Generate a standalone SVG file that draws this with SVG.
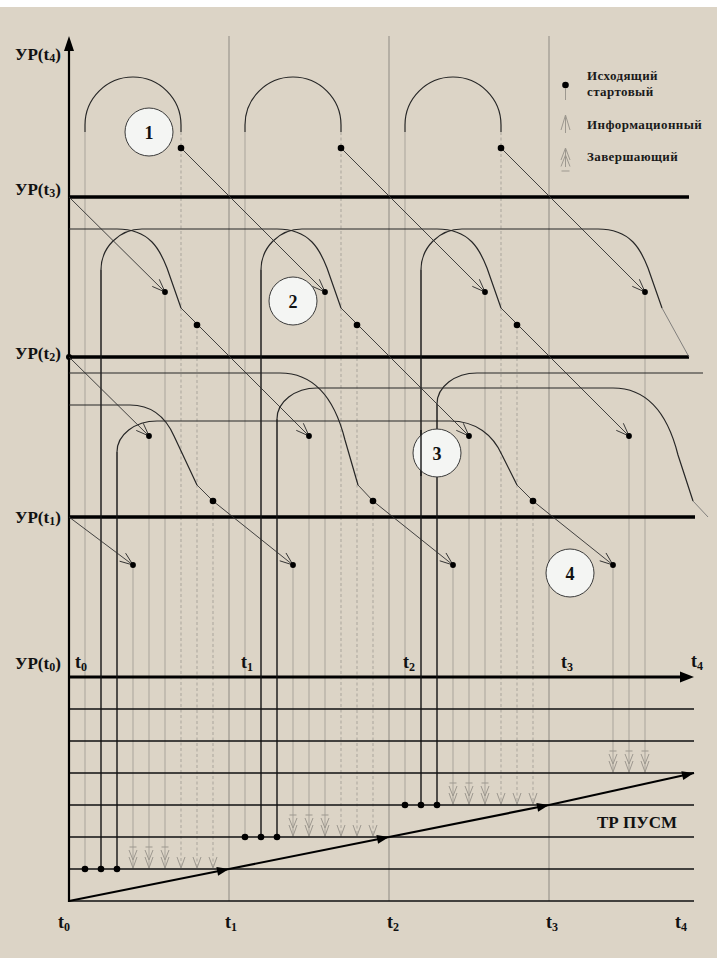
<svg xmlns="http://www.w3.org/2000/svg" width="717" height="958" viewBox="0 0 717 958">
<defs>
<style>
.lv{stroke:#000;stroke-width:3.5}
.row{stroke:#111;stroke-width:1.6}
.tl{stroke:#8e8a83;stroke-width:1}
.sv{stroke:#a9a49b;stroke-width:1}
.dv{stroke:#aaa59c;stroke-width:1;stroke-dasharray:3 2.5}
.bp{fill:none;stroke:#141414;stroke-width:1.4}
.cv{fill:none;stroke:#262626;stroke-width:1.2}
.dg{fill:none;stroke:#303030;stroke-width:0.9;marker-end:url(#oa)}
.fd{fill:none;stroke:#6a6a6a;stroke-width:0.8}
.mk{fill:none;stroke:#9d988f;stroke-width:1}
.lbl{font-family:"Liberation Serif","Times New Roman",serif;font-weight:bold;fill:#111}
.lg{font-family:"Liberation Serif","Times New Roman",serif;font-weight:bold;fill:#1a1a1a;font-size:13px;letter-spacing:0.4px}
.num{fill:#f4f5f3;stroke:#3a3a3a;stroke-width:1}
</style>
<marker id="oa" markerUnits="userSpaceOnUse" markerWidth="16" markerHeight="12" viewBox="-14 -6 16 12" refX="0" refY="0" orient="auto">
<path d="M-13,-5 L0,0 L-13,5" fill="none" stroke="#303030" stroke-width="0.9"/>
</marker>
<marker id="fa" markerUnits="userSpaceOnUse" markerWidth="14" markerHeight="10" viewBox="-13 -5 14 10" refX="0" refY="0" orient="auto">
<path d="M0,0 L-12,-4.5 L-12,4.5 Z" fill="#000"/>
</marker>
<g id="zv" class="mk"><path d="M-3.5,-22 H3.5 M-4,-19 L0,-9 L4,-19 M-4,-12 L0,-1 L4,-12"/></g>
<g id="iv" class="mk"><path d="M-4,-12 L0,-1 L4,-12"/></g>
</defs>

<rect x="0" y="0" width="717" height="958" fill="#fff"/>
<rect x="0" y="7" width="717" height="951" fill="#dcd4c6"/>

<g id="grid">
<!-- time lines -->
<line class="tl" x1="229" y1="36" x2="229" y2="901"/>
<line class="tl" x1="389" y1="36" x2="389" y2="901"/>
<line class="tl" x1="549" y1="36" x2="549" y2="901"/>
<!-- period 0 -->
<line class="sv" x1="85" y1="132" x2="85" y2="869"/>
<line class="sv" x1="133" y1="565" x2="133" y2="869"/>
<line class="sv" x1="149" y1="436" x2="149" y2="869"/>
<line class="sv" x1="165" y1="292" x2="165" y2="869"/>
<line class="dv" x1="181" y1="132" x2="181" y2="869"/>
<line class="dv" x1="197" y1="325" x2="197" y2="869"/>
<line class="dv" x1="213" y1="501" x2="213" y2="869"/>
<!-- period 1 -->
<line class="sv" x1="245" y1="132" x2="245" y2="837"/>
<line class="sv" x1="293" y1="565" x2="293" y2="837"/>
<line class="sv" x1="309" y1="436" x2="309" y2="837"/>
<line class="sv" x1="325" y1="292" x2="325" y2="837"/>
<line class="dv" x1="341" y1="132" x2="341" y2="837"/>
<line class="dv" x1="357" y1="325" x2="357" y2="837"/>
<line class="dv" x1="373" y1="501" x2="373" y2="837"/>
<!-- period 2 -->
<line class="sv" x1="405" y1="132" x2="405" y2="805"/>
<line class="sv" x1="453" y1="565" x2="453" y2="805"/>
<line class="sv" x1="469" y1="436" x2="469" y2="805"/>
<line class="sv" x1="485" y1="292" x2="485" y2="805"/>
<line class="dv" x1="501" y1="132" x2="501" y2="805"/>
<line class="dv" x1="517" y1="325" x2="517" y2="805"/>
<line class="dv" x1="533" y1="501" x2="533" y2="805"/>
<!-- period 3 -->
<line class="sv" x1="613" y1="565" x2="613" y2="773"/>
<line class="sv" x1="629" y1="436" x2="629" y2="773"/>
<line class="sv" x1="645" y1="292" x2="645" y2="773"/>
</g>

<g id="levels">
<line class="lv" x1="69" y1="197" x2="689" y2="197"/>
<line class="lv" x1="69" y1="357" x2="689" y2="357"/>
<line class="lv" x1="69" y1="517" x2="695" y2="517"/>
<circle cx="69" cy="357" r="3" fill="#000"/>
<line x1="69" y1="677" x2="682" y2="677" stroke="#000" stroke-width="3"/>
<polygon points="694,677 680,671.5 680,682.5" fill="#000"/>
<line class="row" x1="69" y1="709" x2="694" y2="709"/>
<line class="row" x1="69" y1="741" x2="694" y2="741"/>
<line class="row" x1="69" y1="773" x2="694" y2="773"/>
<line class="row" x1="69" y1="805" x2="694" y2="805"/>
<line class="row" x1="69" y1="837" x2="694" y2="837"/>
<line class="row" x1="69" y1="869" x2="694" y2="869"/>
<line class="row" x1="69" y1="901" x2="694" y2="901"/>
<line x1="69" y1="48" x2="69" y2="902" stroke="#000" stroke-width="2.2"/>
<polygon points="69,36 64,51 74,51" fill="#000"/>
</g>

<g id="connectors">
<!-- top arcs -->
<path class="cv" d="M85,132 V125 A48,48 0 0 1 181,125 V132"/>
<path class="cv" d="M245,132 V125 A48,48 0 0 1 341,125 V132"/>
<path class="cv" d="M405,132 V125 A48,48 0 0 1 501,125 V132"/>
<!-- band 3 paths -->
<path class="cv" d="M69,229 H117 C150,229 160,250 167,268 L181,308"/>
<path class="bp" d="M101,869 V270"/>
<path class="cv" d="M101,270 A41,41 0 0 1 142,229 H277 C310,229 320,250 327,268 L341,308"/>
<path class="bp" d="M261,837 V270"/>
<path class="cv" d="M261,270 A41,41 0 0 1 302,229 H437 C470,229 480,250 487,268 L501,308"/>
<path class="bp" d="M421,805 V270"/>
<path class="cv" d="M421,270 A41,41 0 0 1 462,229 H598 C631,229 641,250 648,268 L662,308"/>
<path class="fd" d="M662,308 L689,357"/>
<!-- band 2 paths -->
<path class="cv" d="M69,405 H130 C152,405 166,418 174,436 L197,485"/>
<path class="cv" d="M69,373 H280 C315,373 335,400 345,440 L358,485"/>
<path class="bp" d="M117,869 V452"/>
<path class="cv" d="M117,452 A40,31 0 0 1 157,421 H450 C476,421 493,435 502,455 L517,485"/>
<path class="bp" d="M277,837 V419"/>
<path class="cv" d="M277,419 A40,31 0 0 1 317,388 H613 C648,388 668,415 678,455 L693,501"/>
<path class="fd" d="M693,501 L708,517"/>
<path class="bp" d="M437,805 V404"/>
<path class="cv" d="M437,404 A40,31 0 0 1 477,373 H703"/>
<!-- diagonals band 4 -> 3 -->
<path class="dg" d="M69,197 L165,292"/>
<path class="dg" d="M181,148 L325,292"/>
<path class="dg" d="M341,148 L485,292"/>
<path class="dg" d="M501,148 L645,292"/>
<!-- diagonals band 3 -> 2 -->
<path class="dg" d="M69,357 L149,436"/>
<path class="dg" d="M181,308 L309,436"/>
<path class="dg" d="M341,308 L469,436"/>
<path class="dg" d="M501,308 L629,436"/>
<!-- diagonals band 2 -> 1 -->
<path class="dg" d="M69,517 L133,565"/>
<path class="dg" d="M197,485 L213,501 L293,565"/>
<path class="dg" d="M358,485 L373,501 L453,565"/>
<path class="dg" d="M517,485 L533,501 L613,565"/>
<!-- TR PUSM staircase -->
<g stroke="#000" stroke-width="2.2" fill="none" marker-end="url(#fa)">
<line x1="69" y1="901" x2="229" y2="869"/>
<line x1="229" y1="869" x2="389" y2="837"/>
<line x1="389" y1="837" x2="549" y2="805"/>
<line x1="549" y1="805" x2="694" y2="773"/>
</g>
</g>

<g id="dots" fill="#000">
<circle cx="181" cy="148" r="3.3"/><circle cx="341" cy="148" r="3.3"/><circle cx="501" cy="148" r="3.3"/>
<circle cx="165" cy="292" r="2.9"/><circle cx="325" cy="292" r="2.9"/><circle cx="485" cy="292" r="2.9"/><circle cx="645" cy="292" r="2.9"/>
<circle cx="197" cy="325" r="3.3"/><circle cx="357" cy="325" r="3.3"/><circle cx="517" cy="325" r="3.3"/>
<circle cx="149" cy="436" r="2.9"/><circle cx="309" cy="436" r="2.9"/><circle cx="469" cy="436" r="2.9"/><circle cx="629" cy="436" r="2.9"/>
<circle cx="213" cy="501" r="3.3"/><circle cx="373" cy="501" r="3.3"/><circle cx="533" cy="501" r="3.3"/>
<circle cx="133" cy="565" r="2.9"/><circle cx="293" cy="565" r="2.9"/><circle cx="453" cy="565" r="2.9"/><circle cx="613" cy="565" r="2.9"/>
<circle cx="85" cy="869" r="3.3"/><circle cx="101" cy="869" r="3.3"/><circle cx="117" cy="869" r="3.3"/>
<circle cx="245" cy="837" r="3.3"/><circle cx="261" cy="837" r="3.3"/><circle cx="277" cy="837" r="3.3"/>
<circle cx="405" cy="805" r="3.3"/><circle cx="421" cy="805" r="3.3"/><circle cx="437" cy="805" r="3.3"/>
</g>

<g id="markers">
<use href="#zv" x="133" y="869"/><use href="#zv" x="149" y="869"/><use href="#zv" x="165" y="869"/>
<use href="#iv" x="181" y="869"/><use href="#iv" x="197" y="869"/><use href="#iv" x="213" y="869"/>
<use href="#zv" x="293" y="837"/><use href="#zv" x="309" y="837"/><use href="#zv" x="325" y="837"/>
<use href="#iv" x="341" y="837"/><use href="#iv" x="357" y="837"/><use href="#iv" x="373" y="837"/>
<use href="#zv" x="453" y="805"/><use href="#zv" x="469" y="805"/><use href="#zv" x="485" y="805"/>
<use href="#iv" x="501" y="805"/><use href="#iv" x="517" y="805"/><use href="#iv" x="533" y="805"/>
<use href="#zv" x="613" y="773"/><use href="#zv" x="629" y="773"/><use href="#zv" x="645" y="773"/>
</g>

<g id="n1"><circle class="num" cx="149" cy="132" r="24"/><text class="lbl" x="149" y="138.5" font-size="18" text-anchor="middle">1</text></g>
<g id="n2"><circle class="num" cx="293" cy="301" r="24"/><text class="lbl" x="293" y="307.5" font-size="18" text-anchor="middle">2</text></g>
<g id="n3"><circle class="num" cx="437" cy="453" r="24"/><text class="lbl" x="437" y="459.5" font-size="18" text-anchor="middle">3</text>
<line x1="421" y1="430" x2="421" y2="476" stroke="#141414" stroke-width="1.4"/></g>
<g id="n4"><circle class="num" cx="570" cy="573" r="24"/><text class="lbl" x="570" y="579.5" font-size="18" text-anchor="middle">4</text></g>

<g id="legend">
<circle cx="565.5" cy="85" r="3.3" fill="#000"/>
<line x1="565.5" y1="88" x2="565.5" y2="100" stroke="#9d988f" stroke-width="1"/>
<path class="mk" d="M561,130 L565.5,115 L570,130 M565.5,115 V133"/>
<path class="mk" d="M561,160 L565.5,148 L570,160 M561,166.5 L565.5,155 L570,166.5 M565.5,148 V167 M561.5,171 H569.5"/>
<text class="lg" x="587" y="80">Исходящий</text>
<text class="lg" x="587" y="96">стартовый</text>
<text class="lg" x="587" y="128.5">Информационный</text>
<text class="lg" x="587" y="160.5">Завершающий</text>
</g>

<g id="labels" class="lbl" font-size="17">
<text x="15" y="60">УР(t<tspan font-size="12" dy="2">4</tspan><tspan dy="-2">)</tspan></text>
<text x="15" y="194.5">УР(t<tspan font-size="12" dy="2">3</tspan><tspan dy="-2">)</tspan></text>
<text x="15" y="359">УР(t<tspan font-size="12" dy="2">2</tspan><tspan dy="-2">)</tspan></text>
<text x="15" y="523">УР(t<tspan font-size="12" dy="2">1</tspan><tspan dy="-2">)</tspan></text>
<text x="15" y="668.5">УР(t<tspan font-size="12" dy="2">0</tspan><tspan dy="-2">)</tspan></text>
<g font-size="18">
<text x="75" y="668">t<tspan font-size="12" dy="3">0</tspan></text>
<text x="241" y="668">t<tspan font-size="12" dy="3">1</tspan></text>
<text x="403" y="668">t<tspan font-size="12" dy="3">2</tspan></text>
<text x="561" y="668">t<tspan font-size="12" dy="3">3</tspan></text>
<text x="691" y="667">t<tspan font-size="12" dy="3">4</tspan></text>
<text x="58" y="928">t<tspan font-size="12" dy="3">0</tspan></text>
<text x="225" y="928">t<tspan font-size="12" dy="3">1</tspan></text>
<text x="387" y="928">t<tspan font-size="12" dy="3">2</tspan></text>
<text x="546" y="928">t<tspan font-size="12" dy="3">3</tspan></text>
<text x="675" y="928">t<tspan font-size="12" dy="3">4</tspan></text>
</g>
<text x="597" y="828">ТР ПУСМ</text>
</g>
</svg>
